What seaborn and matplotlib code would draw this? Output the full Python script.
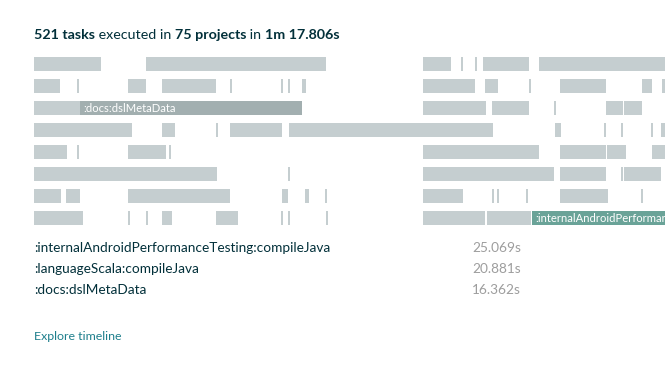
import numpy as np
import pandas as pd
import seaborn as sns
from matplotlib import pyplot as plt

# build timeline lanes: start times and durations in seconds
lane_starts = [
    [0.00, 8.25, 28.67, 31.47, 32.50, 33.09, 37.21],
    [0.00, 3.17, 6.96, 9.43, 14.44, 18.20, 18.72, 19.73, 28.67, 33.24, 36.48, 38.76, 44.80, 46.28],
    [0.00, 3.39, 28.67, 33.75, 38.32, 42.15, 43.48],
    [0.00, 9.43, 13.41, 14.44, 18.79, 38.39, 42.00, 43.26, 45.47, 46.20],
    [0.00, 3.17, 6.93, 9.95, 28.67, 38.76, 42.23, 45.54],
    [0.00, 18.72, 28.67, 38.76, 43.26, 43.48],
    [0.00, 2.36, 6.93, 18.28, 19.97, 21.44, 28.67, 33.75, 34.12, 36.26, 38.76, 44.73],
    [0.00, 6.93, 8.25, 9.43, 13.41, 18.20, 18.72, 21.52, 28.67, 33.38, 36.70],
]
lane_durations = [
    [4.94, 13.26, 2.06, 0.15, 0.15, 3.39, 20.88],
    [1.92, 0.15, 1.29, 3.98, 0.15, 0.15, 0.15, 0.32, 3.83, 0.96, 0.15, 3.39, 0.74, 0.80],
    [3.39, 16.362, 4.64, 2.73, 0.15, 1.25, 1.33],
    [7.22, 0.96, 0.15, 3.83, 15.03, 0.44, 0.15, 0.15, 0.15, 1.00],
    [2.43, 0.15, 2.80, 0.15, 8.55, 3.39, 1.40, 1.50],
    [13.49, 0.15, 9.65, 3.39, 0.15, 2.73],
    [1.99, 1.03, 7.52, 0.44, 0.29, 0.15, 2.95, 0.15, 0.15, 0.15, 3.54, 0.15],
    [3.61, 0.15, 0.15, 0.74, 1.62, 0.15, 0.15, 0.15, 4.57, 3.24, 25.069],
]

# highlighted tasks: (lane, index in lane, label, kind)
highlights = [(2, 1, ':docs:dslMetaData', 'dark'),
              (7, 10, ':internalAndroidPerformanceTesting:compileJava', 'green')]

slowest_tasks = [':internalAndroidPerformanceTesting:compileJava',
                 ':languageScala:compileJava',
                 ':docs:dslMetaData']
slowest_times = ['25.069s', '20.881s', '16.362s']

title_parts = [('521 tasks', 'bold'), (' executed in ', 'normal'), ('75 projects', 'bold'),
               (' in ', 'normal'), ('1m 17.806s', 'bold')]

rows = []
for lane, (s, d) in enumerate(zip(lane_starts, lane_durations)):
    for i in range(len(s)):
        rows.append({'lane': lane, 'idx': i, 'start': s[i], 'duration': d[i]})
tasks_df = pd.DataFrame(rows)

sns.set_theme(style='white')
plt.rcParams['font.family'] = ['Lato', 'DejaVu Sans']

colors = {'light': '#c5ced0', 'dark': '#a2afb0', 'green': '#6aa398'}
hl_map = {(l, i): k for l, i, lab, k in highlights}
tasks_df['kind'] = [hl_map.get((l, i), 'light') for l, i in zip(tasks_df.lane, tasks_df.idx)]

fig = plt.figure(figsize=(6.65, 3.68), dpi=100)
ax = fig.add_axes([34 / 665, 139 / 368, 631 / 665, 176 / 368])

ax.barh(tasks_df.lane, tasks_df.duration, left=tasks_df.start, height=14 / 22,
        color=[colors[k] for k in tasks_df.kind], linewidth=0)

for l, i, lab, k in highlights:
    ax.text(lane_starts[l][i] + 0.25, l, lab, color='white', fontsize=8.1,
            va='center', ha='left', clip_on=True)

ax.set_xlim(0, 46.5)
ax.set_ylim(7.5, -0.5)
ax.axis('off')

# title with mixed weights
prev = fig.text(34 / 665, 1 - 35 / 368, title_parts[0][0], fontsize=10.3,
                fontweight=title_parts[0][1], color='#02303a', va='center', ha='left')
for txt, w in title_parts[1:]:
    prev = plt.annotate(txt, xy=(1, 0), xycoords=prev, va='bottom', ha='left',
                        fontsize=10.3, fontweight=w, color='#02303a',
                        annotation_clip=False)

# slowest tasks list
for n, (name, dur) in enumerate(zip(slowest_tasks, slowest_times)):
    y = 1 - (248 + 21 * n) / 368
    fig.text(34 / 665, y, name, fontsize=9.8, color='#02303a', va='center', ha='left')
    fig.text(521 / 665, y, dur, fontsize=9.8, color='#9d9d9d', va='center', ha='right')

fig.text(34 / 665, 1 - 336 / 368, 'Explore timeline', fontsize=8.9, color='#1e7f8c',
         va='center', ha='left')

plt.savefig('out.png', dpi=100)
